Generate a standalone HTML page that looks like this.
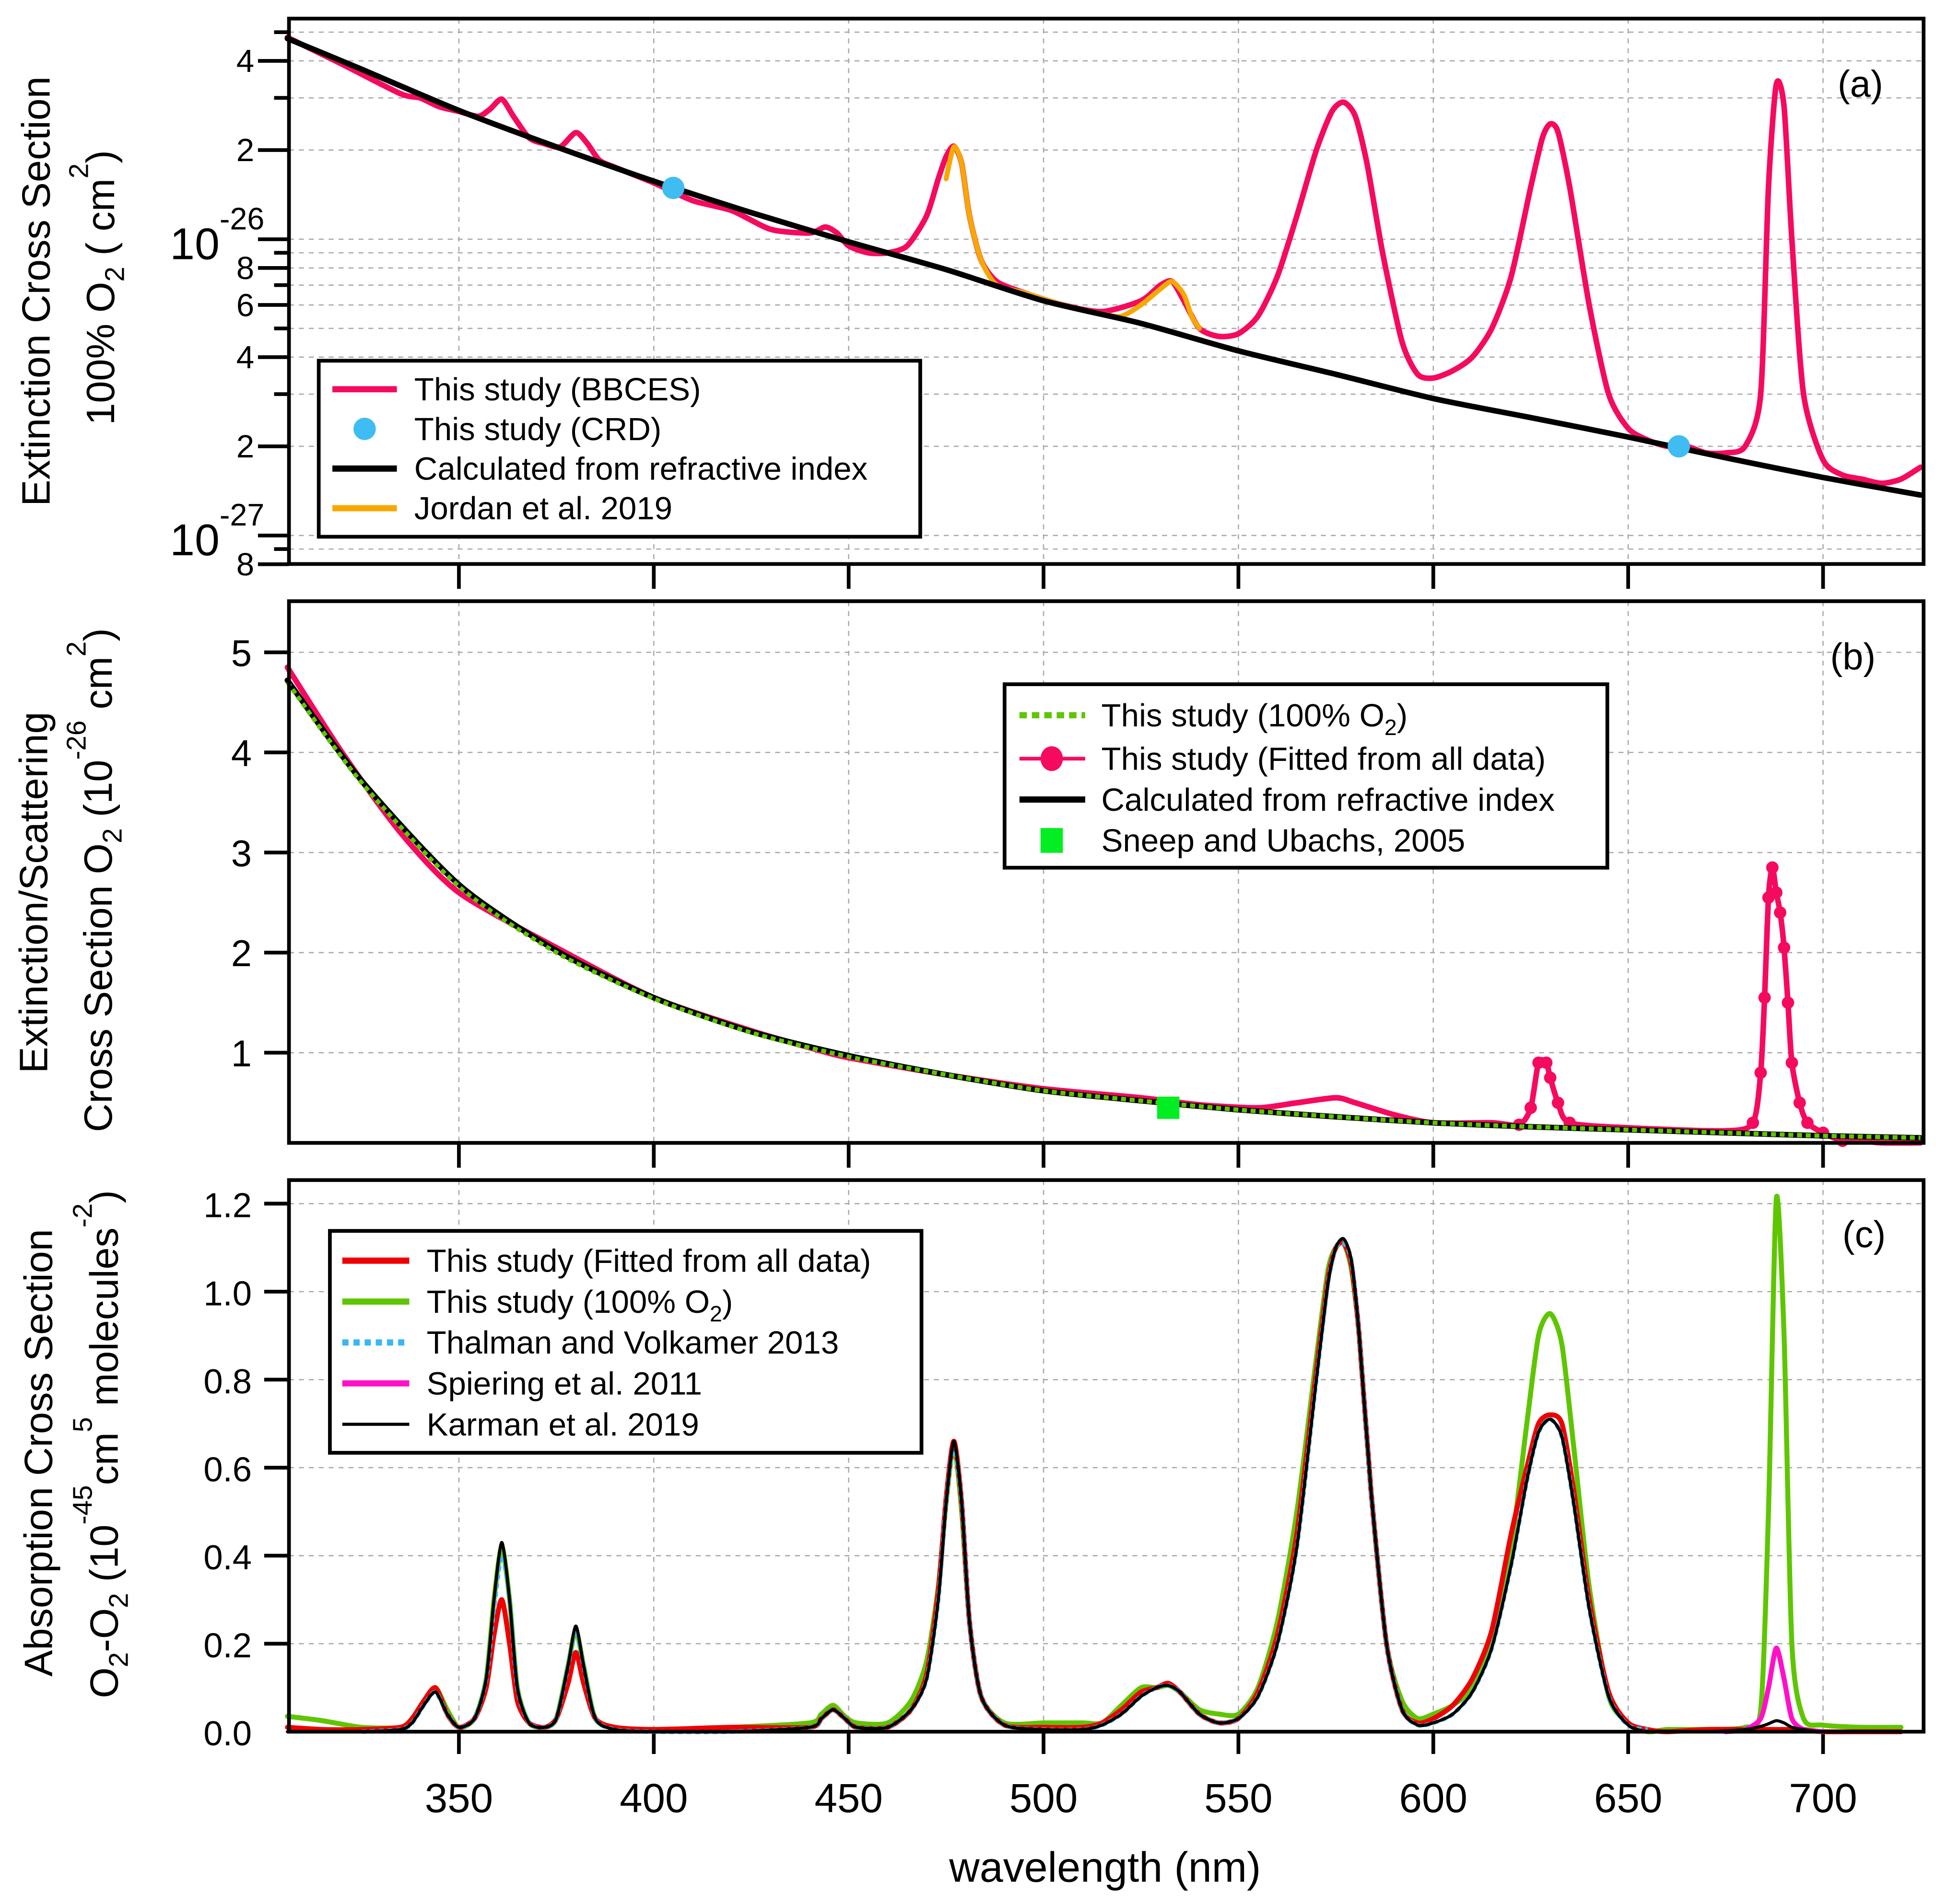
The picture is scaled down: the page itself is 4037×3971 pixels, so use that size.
<!DOCTYPE html>
<html><head><meta charset="utf-8"><title>O2 cross sections</title>
<style>
html,body{margin:0;padding:0;background:#fff;}
svg{display:block;font-family:"Liberation Sans",sans-serif;}
</style></head>
<body>
<svg id="fig" width="4037" height="3971" viewBox="0 0 1561 1536" preserveAspectRatio="none" xmlns="http://www.w3.org/2000/svg"></svg>
<script>
// ===== Panel (a) data (units 1e-26 cm^2) =====
const wlA = [306,320,335,340,345,350,355,358,361,364,368,372,376,380,383,386,390,400,410,420,430,440,444,447,450,455,460,465,470,473,475,477,479,481,484,488,495,505,515,525,530,533,536,540,545,550,555,560,565,570,574,577,580,583,587,592,596,600,605,610,615,620,625,628,630,632,635,640,645,650,655,660,665,670,675,680,684,686,688,690,692,695,700,705,710,715,720,725];
const bbcesA = [4.8,3.9,3.1,3.0,2.8,2.7,2.6,2.75,2.97,2.6,2.2,2.1,2.05,2.29,2.1,1.85,1.75,1.55,1.35,1.25,1.08,1.05,1.1,1.05,0.95,0.9,0.9,0.95,1.2,1.6,1.9,2.06,1.8,1.2,0.85,0.72,0.66,0.6,0.57,0.62,0.7,0.72,0.62,0.5,0.47,0.48,0.55,0.75,1.2,2.0,2.7,2.9,2.6,1.8,0.9,0.45,0.35,0.34,0.36,0.4,0.5,0.75,1.5,2.2,2.45,2.3,1.5,0.6,0.3,0.23,0.21,0.2,0.2,0.19,0.19,0.2,0.3,1.5,3.33,2.8,1.0,0.3,0.18,0.16,0.155,0.15,0.155,0.17];
const wlRay = [306,325,350,375,400,425,450,475,500,525,550,575,600,625,650,675,700,725];
const rayA = [4.76,3.75,2.72,2.05,1.57,1.23,0.98,0.79,0.62,0.52,0.42,0.35,0.29,0.25,0.215,0.183,0.157,0.137];
const wlJordan = [475,477,479,481,484,488,495,505,515,520,525,530,533,536,538,540];
const jordanA = [1.6,2.05,1.8,1.2,0.85,0.7,0.66,0.6,0.56,0.55,0.6,0.68,0.72,0.65,0.55,0.5];
const wlCRD = [405,663];
const crdA = [1.49,0.2];
const yTicksA = [5,4,3,2,1,0.9,0.8,0.7,0.6,0.5,0.4,0.3,0.2,0.1,0.09,0.08];
const yTickLabelsA = ["","4","","2","10","","8","","6","","4","","2","10","","8"];

// ===== Panel (b) data (units 1e-26 cm^2) =====
const wlB = [306,320,335,350,375,400,425,440,450,475,500,525,540,555,565,575,580,590,600,615,622,625,627,629,630,632,635,650,675,682,684,685,686,687,688,689,690,691,692,694,696,700,705,710,715,725];
const fitB = [4.85,4.0,3.2,2.6,2.05,1.55,1.22,1.05,0.95,0.78,0.64,0.55,0.48,0.45,0.5,0.55,0.5,0.38,0.3,0.3,0.28,0.45,0.9,0.9,0.75,0.5,0.3,0.25,0.22,0.3,0.8,1.55,2.55,2.85,2.6,2.4,2.05,1.5,0.9,0.5,0.3,0.2,0.12,0.12,0.1,0.1];
const rayB = [4.72,3.72,2.68,2.02,1.55,1.21,0.97,0.78,0.62,0.52,0.43,0.36,0.3,0.26,0.23,0.2,0.17,0.15];
const o2B = [4.7,3.7,2.66,2.0,1.54,1.2,0.96,0.78,0.62,0.52,0.43,0.36,0.3,0.26,0.23,0.2,0.17,0.15];
const wlSneep = [532];
const sneepB = [0.45];
const yTicksB = [1,2,3,4,5];

// ===== Panel (c) data (units 1e-45 cm^5 molecules^-2) =====
const wlC = [306,315,325,335,338,341,344,347,350,354,357,359,361,363,365,368,372,375,378,380,382,385,390,400,420,440,443,446,449,452,460,466,470,473,475,477,479,481,484,490,500,510,515,520,525,529,532,535,540,545,550,555,560,565,570,573,575,577,579,581,584,588,592,596,600,605,610,615,620,624,627,630,633,636,640,645,650,655,660,670,680,684,686,688,690,692,695,700,710,720];
const karmanC = [0,0,0,0.005,0.02,0.06,0.09,0.04,0.01,0.03,0.12,0.3,0.43,0.3,0.1,0.02,0.01,0.03,0.15,0.24,0.15,0.03,0.005,0,0,0.01,0.03,0.05,0.03,0.01,0.01,0.05,0.12,0.3,0.52,0.66,0.52,0.25,0.08,0.015,0.005,0.005,0.015,0.04,0.08,0.1,0.105,0.09,0.04,0.02,0.03,0.08,0.2,0.42,0.8,1.02,1.1,1.12,1.07,0.9,0.55,0.2,0.05,0.015,0.02,0.04,0.09,0.19,0.38,0.57,0.68,0.71,0.67,0.52,0.28,0.08,0.015,0,0,0,0.005,0.012,0.018,0.025,0.02,0.01,0.005,0,0,0];
const fitC = [0.01,0.005,0.005,0.01,0.03,0.07,0.1,0.04,0.01,0.03,0.1,0.22,0.3,0.2,0.07,0.02,0.01,0.03,0.11,0.18,0.11,0.03,0.01,0.005,0.01,0.01,0.03,0.05,0.03,0.01,0.01,0.05,0.13,0.32,0.53,0.66,0.52,0.25,0.08,0.015,0.01,0.01,0.02,0.05,0.09,0.1,0.11,0.09,0.04,0.02,0.03,0.09,0.22,0.45,0.82,1.03,1.1,1.11,1.06,0.9,0.55,0.2,0.05,0.02,0.03,0.06,0.12,0.23,0.45,0.6,0.7,0.72,0.7,0.55,0.3,0.09,0.02,0.005,0,0.005,0.005,0.005,0.005,0.005,0.005,0.005,0.005,0,0,0];
const o2C = [0.035,0.025,0.01,0.01,0.03,0.07,0.1,0.05,0.01,0.03,0.12,0.3,0.42,0.3,0.1,0.02,0.01,0.03,0.15,0.23,0.15,0.03,0.01,0.005,0.01,0.02,0.04,0.06,0.035,0.02,0.02,0.07,0.16,0.33,0.52,0.65,0.5,0.25,0.08,0.02,0.02,0.02,0.02,0.06,0.1,0.1,0.105,0.09,0.05,0.04,0.04,0.1,0.25,0.5,0.85,1.05,1.1,1.11,1.05,0.9,0.55,0.2,0.07,0.03,0.04,0.06,0.1,0.2,0.42,0.7,0.9,0.95,0.88,0.65,0.33,0.08,0.02,0,0.005,0.005,0.01,0.05,0.5,1.21,0.9,0.2,0.03,0.015,0.01,0.01];
const thalmanC = [null,null,0,0.005,0.02,0.06,0.09,0.04,0.01,0.03,0.12,0.28,0.4,0.3,0.1,0.02,0.01,0.03,0.15,0.23,0.15,0.03,0.005,0,0,0.01,0.03,0.05,0.03,0.01,0.01,0.05,0.12,0.3,0.52,0.65,0.52,0.25,0.08,0.015,0.005,0.005,0.015,0.04,0.08,0.1,0.105,0.09,0.04,0.02,0.03,0.08,0.2,0.42,0.8,1.02,1.1,1.11,1.07,0.9,0.55,0.2,0.05,0.015,0.02,0.04,0.09,0.19,0.38,0.57,0.68,0.71,0.67,0.52,0.28,0.08,0.015,0.005,null,null,null,null,null,null,null,null,null,null,null,null];
const wlSpier = [675,680,684,686,688,690,692,695,700];
const spierC = [0,0.005,0.03,0.1,0.19,0.12,0.03,0.005,0];
const yTicksC = [0,0.2,0.4,0.6,0.8,1.0,1.2];
const xTicks = [350,400,450,500,550,600,650,700];

// ===== geometry (viewBox units) =====
const svg = document.getElementById('fig');
const NS = 'http://www.w3.org/2000/svg';
const L = 233, R = 1551, WL0 = 306.4, WL1 = 725.8;
const X = w => L + (w - WL0) / (WL1 - WL0) * (R - L);
const PA = {top:15, bot:455};
const YA = v => 193 - (Math.log10(v)) * 239;
const PB = {top:485, bot:922};
const YB = v => 930 - v * 80.75;
const PC = {top:952, bot:1397};
const YC = v => 1397 - v * 355;

function el(tag, attrs, parent) {
  const e = document.createElementNS(NS, tag);
  for (const k in attrs) e.setAttribute(k, attrs[k]);
  (parent || svg).appendChild(e);
  return e;
}
function group(name) {
  const g = el('g', {});
  
  
  return g;
}
// smooth path (Catmull-Rom -> Bezier), segments broken at nulls
function pathD(xs, ys, fy) {
  let d = '';
  let seg = [];
  const flush = () => {
    if (seg.length) {
      d += 'M' + seg[0][0].toFixed(2) + ',' + seg[0][1].toFixed(2);
      for (let i = 0; i < seg.length - 1; i++) {
        const p0 = seg[i > 0 ? i - 1 : i], p1 = seg[i], p2 = seg[i + 1], p3 = seg[i + 2 < seg.length ? i + 2 : i + 1];
        const k = 1 / 8;
        const c1x = p1[0] + (p2[0] - p0[0]) * k, c1y = p1[1] + (p2[1] - p0[1]) * k;
        const c2x = p2[0] - (p3[0] - p1[0]) * k, c2y = p2[1] - (p3[1] - p1[1]) * k;
        d += 'C' + c1x.toFixed(2) + ',' + c1y.toFixed(2) + ' ' + c2x.toFixed(2) + ',' + c2y.toFixed(2) + ' ' + p2[0].toFixed(2) + ',' + p2[1].toFixed(2);
      }
    }
    seg = [];
  };
  for (let i = 0; i < xs.length; i++) {
    if (ys[i] === null) { flush(); continue; }
    seg.push([X(xs[i]), fy(ys[i])]);
  }
  flush();
  return d;
}
function line(g, name, xs, ys, fy, stroke, w, dash) {
  const p = el('path', {d: pathD(xs, ys, fy), fill: 'none', stroke: stroke, 'stroke-width': w, 'stroke-linejoin': 'round', 'stroke-linecap': dash ? 'butt' : 'round'}, g);
  if (dash) p.setAttribute('stroke-dasharray', dash);
  
  
  return p;
}
function text(g, name, x, y, str, size, anchor, extra) {
  const t = el('text', Object.assign({x: x, y: y, 'font-size': size, 'text-anchor': anchor || 'start', fill: '#000'}, extra || {}), g);
  t.textContent = str;
  
  
  return t;
}
function frame(g, name, P) {
  const r = el('rect', {x: L, y: P.top, width: R - L, height: P.bot - P.top, fill: 'none', stroke: '#000', 'stroke-width': 3}, g);
  
  
}
function vgrid(g, P) {
  xTicks.forEach(t => {
    const l = el('line', {x1: X(t), x2: X(t), y1: P.top, y2: P.bot, stroke: '#aaa', 'stroke-width': 1, 'stroke-dasharray': '4,4'}, g);
    
    
  });
}
function xTickMarks(g, P, len) {
  xTicks.forEach(t => {
    const l = el('line', {x1: X(t), x2: X(t), y1: P.bot, y2: P.bot + len, stroke: '#000', 'stroke-width': 3}, g);
    
    
  });
}
function hgridTick(g, y, len, P) {
  const gl = el('line', {x1: L, x2: R, y1: y, y2: y, stroke: '#aaa', 'stroke-width': 1, 'stroke-dasharray': '4,4'}, g);
  
  
  const tk = el('line', {x1: L - len, x2: L, y1: y, y2: y, stroke: '#000', 'stroke-width': 3}, g);
  
  
}
function legendBox(g, x, y, w, h) {
  const r = el('rect', {x: x, y: y, width: w, height: h, fill: '#fff', stroke: '#000', 'stroke-width': 3}, g);
  
  
}

// ================= PANEL A =================
const gA = group('panel-a');
vgrid(gA, PA);
yTicksA.forEach((v, i) => {
  const y = YA(v);
  const major = yTickLabelsA[i] !== '';
  hgridTick(gA, y, major ? 25 : 12, PA);
  if (yTickLabelsA[i] === '10') {
    const t = text(gA, 'y-tick-label-a', 137, y + 16, '10', 36, 'start');
    const s = el('tspan', {dy: -24, 'font-size': 25}, t);
    s.textContent = v === 1 ? '-26' : '-27';
  } else if (major) {
    text(gA, 'y-tick-label-a', 205, y + 9, yTickLabelsA[i], 26, 'end');
  }
});
xTickMarks(gA, PA, 20);
line(gA, 'bbces-line', wlA, bbcesA, YA, '#f50a5f', 4.5);
line(gA, 'jordan-2019-line', wlJordan, jordanA, YA, '#f7a800', 4);
line(gA, 'rayleigh-line-a', wlRay, rayA, YA, '#000', 4.5);
wlCRD.forEach((w, i) => {
  const c = el('circle', {cx: X(w), cy: YA(crdA[i]), r: 9, fill: '#3fbdf2'}, gA);
  
  
});
frame(gA, 'plot-frame-a', PA);
text(gA, 'panel-label-a', 1500, 78, '(a)', 30, 'middle');
legendBox(gA, 257, 291, 485, 142);
const legA = [['This study (BBCES)', 'line', '#f50a5f'], ['This study (CRD)', 'dot', '#3fbdf2'], ['Calculated from refractive index', 'line', '#000'], ['Jordan et al. 2019', 'line', '#f7a800']];
legA.forEach((e, i) => {
  const y = 314 + i * 32;
  if (e[1] === 'line') {
    const l = el('line', {x1: 268, x2: 320, y1: y, y2: y, stroke: e[2], 'stroke-width': 5}, gA);
    
    
  } else {
    const c = el('circle', {cx: 294, cy: y, r: 9, fill: e[2]}, gA);
    
    
  }
  text(gA, 'legend-entry', 334, y + 9, e[0], 26);
});
{
  text(gA, 'y-axis-title-a-line1', 0, 0, 'Extinction Cross Section', 32, 'middle', {transform: 'translate(40,235) rotate(-90)'});
  const t2 = text(gA, 'y-axis-title-a-line2', 0, 0, '100% O', 32, 'middle', {transform: 'translate(92,232) rotate(-90)'});
  let s = el('tspan', {dy: 8, 'font-size': 22}, t2); s.textContent = '2';
  s = el('tspan', {dy: -8}, t2); s.textContent = ' ( cm';
  s = el('tspan', {dy: -21, 'font-size': 22}, t2); s.textContent = '2';
  s = el('tspan', {dy: 21}, t2); s.textContent = ')';
}

// ================= PANEL B =================
const gB = group('panel-b');
vgrid(gB, PB);
yTicksB.forEach(v => {
  hgridTick(gB, YB(v), 20, PB);
  text(gB, 'y-tick-label-b', 203, YB(v) + 11, String(v), 30, 'end');
});
xTickMarks(gB, PB, 20);
line(gB, 'fitted-line-b', wlB, fitB, YB, '#f50a5f', 4.5);
wlB.forEach((w, i) => {
  if ((w >= 622 && w <= 636) || (w >= 680 && w <= 706)) {
    const c = el('circle', {cx: X(w), cy: YB(fitB[i]), r: 5, fill: '#f50a5f'}, gB);
    
    
  }
});
line(gB, 'rayleigh-line-b', wlRay, rayB, YB, '#000', 4.5);
line(gB, 'o2-100-line-b', wlRay, o2B, YB, '#5ec600', 3.5, '4,3');
wlSneep.forEach((w, i) => {
  const r = el('rect', {x: X(w) - 9, y: YB(sneepB[i]) - 9, width: 18, height: 18, fill: '#00ee22'}, gB);
  
  
});
frame(gB, 'plot-frame-b', PB);
text(gB, 'panel-label-b', 1494, 540, '(b)', 30, 'middle');
legendBox(gB, 810, 552, 486, 148);
{
  let y = 577;
  let l = el('line', {x1: 822, x2: 875, y1: y, y2: y, stroke: '#5ec600', 'stroke-width': 5, 'stroke-dasharray': '6,4'}, gB);
   
  let t = text(gB, 'legend-entry', 888, y + 9, 'This study (100% O', 26);
  let s = el('tspan', {dy: 7, 'font-size': 18}, t); s.textContent = '2';
  s = el('tspan', {dy: -7}, t); s.textContent = ')';
  y = 612;
  l = el('line', {x1: 822, x2: 875, y1: y, y2: y, stroke: '#f50a5f', 'stroke-width': 3}, gB);
   
  let c = el('ellipse', {cx: 848, cy: y, rx: 9, ry: 10, fill: '#f50a5f'}, gB);
   
  text(gB, 'legend-entry', 888, y + 9, 'This study (Fitted from all data)', 26);
  y = 645;
  l = el('line', {x1: 822, x2: 875, y1: y, y2: y, stroke: '#000', 'stroke-width': 5}, gB);
   
  text(gB, 'legend-entry', 888, y + 9, 'Calculated from refractive index', 26);
  y = 678;
  const r = el('rect', {x: 839, y: y - 10, width: 18, height: 20, fill: '#00ee22'}, gB);
   
  text(gB, 'legend-entry', 888, y + 9, 'Sneep and Ubachs, 2005', 26);
}
{
  text(gB, 'y-axis-title-b-line1', 0, 0, 'Extinction/Scattering', 32, 'middle', {transform: 'translate(38,720) rotate(-90)'});
  const t2 = text(gB, 'y-axis-title-b-line2', 0, 0, 'Cross Section O', 32, 'middle', {transform: 'translate(90,710) rotate(-90)'});
  let s = el('tspan', {dy: 8, 'font-size': 22}, t2); s.textContent = '2';
  s = el('tspan', {dy: -8}, t2); s.textContent = ' (10';
  s = el('tspan', {dy: -21, 'font-size': 22}, t2); s.textContent = '-26';
  s = el('tspan', {dy: 21}, t2); s.textContent = ' cm';
  s = el('tspan', {dy: -21, 'font-size': 22}, t2); s.textContent = '2';
  s = el('tspan', {dy: 21}, t2); s.textContent = ')';
}

// ================= PANEL C =================
const gC = group('panel-c');
vgrid(gC, PC);
yTicksC.forEach(v => {
  if (v > 0) hgridTick(gC, YC(v), 20, PC);
  text(gC, 'y-tick-label-c', 203, YC(v) + 11, v.toFixed(1), 28, 'end');
});
xTickMarks(gC, PC, 18);
line(gC, 'o2-100-line-c', wlC, o2C, YC, '#5ec600', 4);
line(gC, 'fitted-line-c', wlC, fitC, YC, '#f00000', 4);
line(gC, 'spiering-2011-line', wlSpier, spierC, YC, '#ff10c8', 4);
line(gC, 'thalman-2013-line', wlC, thalmanC, YC, '#3ab7f2', 3.5, '4,3');
line(gC, 'karman-2019-line', wlC, karmanC, YC, '#000', 2.5);
frame(gC, 'plot-frame-c', PC);
text(gC, 'panel-label-c', 1503, 1006, '(c)', 30, 'middle');
legendBox(gC, 266, 993, 477, 179);
const legC = [['This study (Fitted from all data)', '#f00000', null, 5], ['This study (100% O2)', '#5ec600', null, 5], ['Thalman and Volkamer 2013', '#3ab7f2', '5,4', 5], ['Spiering et al. 2011', '#ff10c8', null, 5], ['Karman et al. 2019', '#000', null, 2.5]];
legC.forEach((e, i) => {
  const y = 1017 + i * 33;
  const l = el('line', {x1: 276, x2: 330, y1: y, y2: y, stroke: e[1], 'stroke-width': e[3]}, gC);
  if (e[2]) l.setAttribute('stroke-dasharray', e[2]);
  
  
  if (e[0] === 'This study (100% O2)') {
    const t = text(gC, 'legend-entry', 344, y + 9, 'This study (100% O', 26);
    let s = el('tspan', {dy: 7, 'font-size': 18}, t); s.textContent = '2';
    s = el('tspan', {dy: -7}, t); s.textContent = ')';
  } else {
    text(gC, 'legend-entry', 344, y + 9, e[0], 26);
  }
});
{
  text(gC, 'y-axis-title-c-line1', 0, 0, 'Absorption Cross Section', 32, 'middle', {transform: 'translate(42,1172) rotate(-90)'});
  const t2 = text(gC, 'y-axis-title-c-line2', 0, 0, 'O', 32, 'middle', {transform: 'translate(95,1165) rotate(-90)'});
  let s = el('tspan', {dy: 8, 'font-size': 22}, t2); s.textContent = '2';
  s = el('tspan', {dy: -8}, t2); s.textContent = '-O';
  s = el('tspan', {dy: 8, 'font-size': 22}, t2); s.textContent = '2';
  s = el('tspan', {dy: -8}, t2); s.textContent = ' (10';
  s = el('tspan', {dy: -21, 'font-size': 22}, t2); s.textContent = '-45';
  s = el('tspan', {dy: 21}, t2); s.textContent = 'cm';
  s = el('tspan', {dy: -21, 'font-size': 22}, t2); s.textContent = '5';
  s = el('tspan', {dy: 21}, t2); s.textContent = ' molecules';
  s = el('tspan', {dy: -21, 'font-size': 22}, t2); s.textContent = '-2';
  s = el('tspan', {dy: 21}, t2); s.textContent = ')';
}
xTicks.forEach(t => {
  text(gC, 'x-tick-label', X(t), 1462, String(t), 33, 'middle');
});
text(svg, 'x-axis-title', 891, 1518, 'wavelength (nm)', 34, 'middle');
</script>
</body></html>
